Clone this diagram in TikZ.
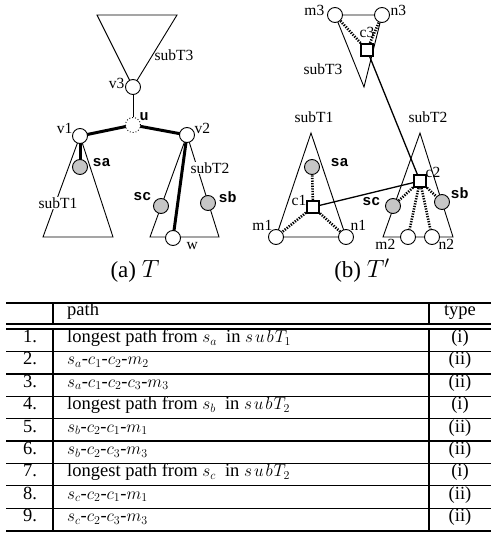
\documentclass[tikz,border=0pt]{standalone}
\usepackage{fontspec}
\setmainfont{Liberation Serif}
\setmonofont{Liberation Mono}
\usetikzlibrary{backgrounds}
\newcommand{\subT}[1]{s\mkern2mu u\mkern2mu b\mkern1mu T_{#1}}
\begin{document}
\begin{tikzpicture}[x=1pt,y=-1pt,
  lbl/.style={font=\fontsize{15.5}{18}\selectfont, inner sep=0.5pt},
  tlbl/.style={font=\fontsize{15}{18}\selectfont\ttfamily\bfseries, inner sep=0.5pt},
  vtx/.style={circle, draw, fill=white, minimum size=15pt, inner sep=0pt, line width=0.9pt},
  dvtx/.style={vtx, dotted},
  gvtx/.style={vtx, fill=gray!45},
  cen/.style={rectangle, draw, fill=white, minimum size=12pt, inner sep=0pt, line width=2pt},
  tri/.style={line width=0.9pt},
  heavy/.style={line width=3pt},
  dots/.style={line width=2.6pt, dash pattern=on 1.3pt off 1.3pt},
  link/.style={line width=1.3pt},
  capt/.style={font=\fontsize{23}{27}\selectfont, inner sep=0pt},
  tf/.style={font=\fontsize{18.5}{22}\selectfont, inner sep=0pt},
  rulethick/.style={line width=2pt},
  rulethin/.style={line width=1.3pt}
]
\useasboundingbox (0,0) rectangle (491,535);

% ---------- (a) T ----------
\node[vtx] (v3) at (133,87) {};
\node[dvtx] (u) at (133,125) {};
\node[vtx] (v1) at (80,136) {};
\node[vtx] (v2) at (187,135) {};
\node[gvtx] (sa) at (80,167) {};
\node[gvtx] (sc) at (161,206) {};
\node[gvtx] (sb) at (208,203) {};
\node[vtx] (w) at (173,238) {};
\coordinate (t3l) at (97,15);
\coordinate (t3r) at (177,15);
\coordinate (t1l) at (43,237);
\coordinate (t1r) at (113,237);
\coordinate (t2l) at (150,237);
\coordinate (t2r) at (219,237);

\node[lbl, anchor=east] (lv3) at (125,83) {v3};
\node[lbl, anchor=west] (lt3) at (154,55) {subT3};
\node[tlbl, anchor=west] (lu) at (139,117) {u};
\node[lbl, anchor=east] (lv1) at (73,128) {v1};
\node[lbl, anchor=west] (lv2) at (194,128) {v2};
\node[tlbl, anchor=west] (lsa) at (92,163) {sa};
\node[lbl, fill=white] (lt1) at (58,203) {subT1};
\node[lbl, fill=white, anchor=west] (lt2) at (190,168) {subT2};
\node[tlbl, anchor=east] (lsc) at (152,197) {sc};
\node[tlbl, anchor=west] (lsb) at (218,197) {sb};
\node[lbl, anchor=west] (lw) at (186,246) {w};

% ---------- (b) T' ----------
\node[vtx] (m3) at (335,15) {};
\node[vtx] (n3) at (382,15) {};
\coordinate (t3b) at (364,87);
\node[cen] (c3) at (367,50) {};
\node[vtx] (m1) at (276,237) {};
\node[vtx] (n1) at (346,237) {};
\coordinate (b1top) at (311,133);
\node[gvtx] (sa2) at (312,167) {};
\node[cen] (c1) at (313,207) {};
\coordinate (b2top) at (420,133);
\coordinate (b2l) at (383,237);
\coordinate (b2r) at (453,237);
\node[vtx] (m2) at (408,237) {};
\node[vtx] (n2) at (432,237) {};
\node[cen] (c2) at (420,181) {};
\node[gvtx] (sc2) at (393,206) {};
\node[gvtx] (sb2) at (442,202) {};

\node[lbl, anchor=east] (lm3) at (325,10) {m3};
\node[lbl, anchor=west] (ln3) at (390,10) {n3};
\node[lbl] (lc3) at (367,32) {c3};
\node[lbl, anchor=west] (lt3b) at (303,69) {subT3};
\node[lbl] (lt1b) at (314,117) {subT1};
\node[tlbl, anchor=west] (lsa2) at (330,163) {sa};
\node[lbl, anchor=east] (lc1) at (307,200) {c1};
\node[lbl, anchor=east] (lm1) at (273,225) {m1};
\node[lbl, anchor=west] (ln1) at (350,225) {n1};
\node[lbl] (lt2b) at (428,117) {subT2};
\node[lbl, anchor=west] (lc2) at (425,172) {c2};
\node[tlbl, anchor=east] (lsc2) at (381,202) {sc};
\node[tlbl, anchor=west] (lsb2) at (450,193) {sb};
\node[lbl, anchor=east] (lm2) at (396,244) {m2};
\node[lbl, anchor=west] (ln2) at (438,244) {n2};

\begin{pgfonlayer}{background}
  % (a)
  \draw[tri] (t3l) -- (t3r) -- (v3.center) -- cycle;
  \draw[tri] (v1.center) -- (t1l) -- (t1r) -- cycle;
  \draw[tri] (v2.center) -- (t2l) -- (t2r) -- cycle;
  \draw[line width=1pt] (v3) -- (u);
  \draw[heavy] (v1.center) -- (u.center) -- (v2.center);
  \draw[heavy] (v1.center) -- (sa.center);
  \draw[heavy] (v2.center) -- (w.center);
  % (b)
  \draw[tri] (m3.center) -- (n3.center) -- (t3b) -- cycle;
  \draw[tri] (b1top) -- (m1.center) -- (n1.center) -- cycle;
  \draw[tri] (b2top) -- (b2l) -- (b2r) -- cycle;
  \draw[dots] (c3) -- (m3);
  \draw[dots] (c3) -- (n3);
  \draw[link] (c3) -- (c2);
  \draw[link] (c1) -- (c2);
  \draw[dots] (c1) -- (sa2);
  \draw[dots] (c1) -- (m1);
  \draw[dots] (c1) -- (n1);
  \draw[dots] (c2) -- (sc2);
  \draw[dots] (c2) -- (m2);
  \draw[dots] (c2) -- (n2);
  \draw[dots] (c2) -- (sb2);
\end{pgfonlayer}

% captions
\node[capt] (capa) at (135,271) {(a) $T$};
\node[capt] (capb) at (362,271) {(b) $T'$};

% ---------- table ----------
\draw[rulethick] (6,303) -- (491,303);
\draw[rulethick] (6,324) -- (491,324);
\draw[rulethick] (6,329) -- (491,329);
\foreach \k in {1,3,4,5,6,7,8} {
  \draw[rulethin] (6,329+22.4*\k) -- (491,329+22.4*\k);
}
\draw[rulethick] (6,329+22.4*2) -- (491,329+22.4*2);
\draw[rulethick] (6,530.6) -- (491,530.6);
\draw[line width=1.5pt] (53,303) -- (53,324);
\draw[line width=1.5pt] (53,329) -- (53,530.6);
\draw[line width=1.5pt] (429,303) -- (429,324);
\draw[line width=1.5pt] (429,329) -- (429,530.6);

\node[tf, anchor=mid west] (hpath) at (67,313.5) {path};
\node[tf, anchor=mid] (htype) at (460,313.5) {type};

\foreach \i/\p/\t in {
  1/{longest path from $s_a$\ \ in $\subT{1}$}/(i),
  2/{$s_a$-$c_1$-$c_2$-$m_2$}/(ii),
  3/{$s_a$-$c_1$-$c_2$-$c_3$-$m_3$}/(ii),
  4/{longest path from $s_b$\ \ in $\subT{2}$}/(i),
  5/{$s_b$-$c_2$-$c_1$-$m_1$}/(ii),
  6/{$s_b$-$c_2$-$c_3$-$m_3$}/(ii),
  7/{longest path from $s_c$\ \ in $\subT{2}$}/(i),
  8/{$s_c$-$c_2$-$c_1$-$m_1$}/(ii),
  9/{$s_c$-$c_2$-$c_3$-$m_3$}/(ii)} {
  \node[tf, anchor=mid] (n\i) at (30,329+22.4*\i-11.2) {\i.};
  \node[tf, anchor=mid west] (p\i) at (67,329+22.4*\i-11.2) {\p};
  \node[tf, anchor=mid] (t\i) at (460,329+22.4*\i-11.2) {\t};
}
\end{tikzpicture}
\end{document}
